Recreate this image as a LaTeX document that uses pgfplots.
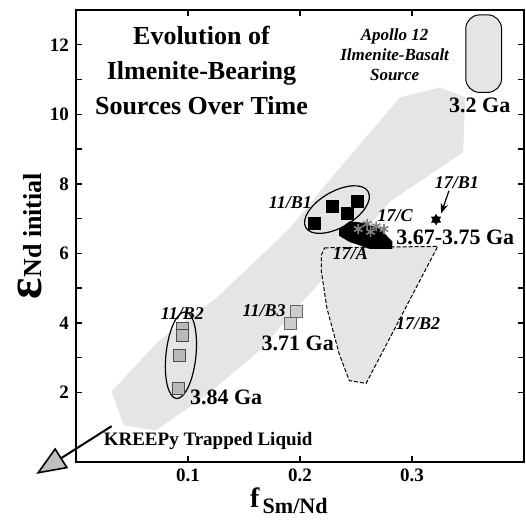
\documentclass[border=0pt]{standalone}
\usepackage{fontspec}
\setmainfont{Liberation Serif}
\usepackage{pgfplots}
\pgfplotsset{compat=1.18}
\usetikzlibrary{arrows.meta,shapes.geometric}
\definecolor{stip}{gray}{0.9}

\begin{document}
\begin{tikzpicture}
\begin{axis}[
    scale only axis,
    width=224pt, height=226pt,
    xmin=0, xmax=0.4, ymin=0, ymax=13,
    xtick={0.1,0.2,0.3},
    ytick={2,4,6,8,10,12},
    minor y tick num=1,
    tick align=inside,
    major tick length=3pt, minor tick length=3pt,
    axis line style={line width=0.8pt},
    every tick/.style={black, line width=0.7pt},
    ticklabel style={font=\bfseries\fontsize{9.5}{10}\selectfont},
    /pgf/number format/assume math mode=true,
    xticklabel style={/pgf/number format/fixed, /pgf/number format/precision=1},
    clip=false,
]
% evolution band
\addplot[fill=stip, draw=none] coordinates {
  (0.0318,2.03) (0.074,3.49) (0.125,4.71) (0.1906,6.71) (0.2265,8.11)
  (0.2892,10.49) (0.3251,10.77) (0.3475,10.49) (0.3457,8.91) (0.2803,7.49)
  (0.2265,5.49) (0.1637,3.2) (0.1161,1.91) (0.0713,0.91) (0.0426,1.06)} -- cycle;
% 17/B2 field
\addplot[fill=stip, draw=black, dash pattern=on 2pt off 1pt, line width=0.5pt] coordinates {
  (0.222,6.16) (0.323,6.2) (0.259,2.26) (0.244,2.34) (0.235,3.11)
  (0.224,4.43) (0.219,5.5) (0.219,5.95)} -- cycle;
% Apollo 12 source
\addplot[fill=stip, draw=black, line width=0.5pt, rounded corners=7pt] coordinates {
  (0.348,10.63) (0.380,10.63) (0.380,12.86) (0.348,12.86)} -- cycle;
% 17/A
\addplot[fill=black, draw=black] coordinates {
  (0.2354,6.69) (0.2444,6.91) (0.2578,6.86) (0.2713,6.69) (0.2821,6.34)
  (0.2821,6.14) (0.2623,6.14) (0.2444,6.34) (0.2354,6.51)} -- cycle;
% 17/C
\addplot[only marks, mark=asterisk, mark size=2.5pt, gray, line width=0.8pt] coordinates {
  (0.252,6.7) (0.260,6.85) (0.268,6.78) (0.275,6.7) (0.263,6.62)};
% 17/B1
\addplot[only marks, mark=triangle*, mark size=2.5pt, black] coordinates {(0.3215,6.97)};
\addplot[only marks, mark=triangle*, mark size=2.5pt, mark options={rotate=180}, black] coordinates {(0.3215,6.97)};
\addplot[line width=0.6pt, -{Stealth[length=5pt]}] coordinates {(0.333,7.8) (0.326,7.15)};
% 11/B1
\addplot[only marks, mark=square*, mark size=3pt, black] coordinates {
  (0.213,6.86) (0.229,7.34) (0.242,7.14) (0.251,7.49)};
% 11/B2
\addplot[only marks, mark=square*, mark size=3pt, draw=black!70, fill=gray!55] coordinates {
  (0.095,3.85) (0.095,3.65) (0.092,3.06) (0.091,2.11)};
% 11/B3
\addplot[only marks, mark=square*, mark size=3pt, draw=black!60, fill=gray!40] coordinates {
  (0.197,4.34) (0.191,4.0)};
% KREEPy arrow
\addplot[line width=1pt, -{Triangle[length=15pt, width=12pt, fill=gray!50, line width=0.8pt]}] coordinates {
  (0.0318,1.03) (-0.0354,-0.343)};

\node[draw, ellipse, line width=0.6pt, minimum width=36pt, minimum height=18pt, inner sep=0pt, rotate=30] at (axis cs:0.233,7.26) {};
\node[draw, ellipse, line width=0.6pt, minimum width=43.5pt, minimum height=15pt, inner sep=0pt, rotate=84] at (axis cs:0.0937,3.07) {};

\node[align=center, font=\bfseries\fontsize{13}{17.3}\selectfont] at (axis cs:0.112,11.26)
  {Evolution of\\Ilmenite-Bearing\\Sources Over Time};
\node[align=center, font=\bfseries\itshape\fontsize{8.5}{10}\selectfont] at (axis cs:0.2845,11.71)
  {Apollo 12\\Ilmenite-Basalt\\Source};
\begin{scope}[every node/.style={font=\bfseries\fontsize{11}{12}\selectfont}]
\node at (axis cs:0.3605,10.26) {3.2 Ga};
\node at (axis cs:0.3386,6.45) {3.67-3.75 Ga};
\node at (axis cs:0.198,3.40) {3.71 Ga};
\node at (axis cs:0.134,1.86) {3.84 Ga};
\end{scope}
\begin{scope}[every node/.style={font=\bfseries\itshape\fontsize{9}{10}\selectfont}]
\node at (axis cs:0.340,8.03) {17/B1};
\node at (axis cs:0.285,7.08) {17/C};
\node at (axis cs:0.245,6.0) {17/A};
\node at (axis cs:0.3054,3.97) {17/B2};
\node at (axis cs:0.1915,7.46) {11/B1};
\node at (axis cs:0.168,4.34) {11/B3};
\node at (axis cs:0.095,4.26) {11/B2};
\end{scope}
\node[font=\bfseries\fontsize{9.5}{10}\selectfont] at (axis cs:0.118,0.6) {KREEPy Trapped Liquid};

\node[rotate=90, font=\bfseries] at (axis description cs:-0.103,0.5)
  {{\fontsize{25}{25}\selectfont ε}{\fontsize{13}{13}\selectfont Nd initial}};
\node[font=\bfseries, anchor=base] at (axis description cs:0.475,-0.1)
  {{\fontsize{14}{14}\selectfont f}\,\raisebox{-3pt}{\fontsize{11}{11}\selectfont Sm/Nd}};
\end{axis}
\path ([shift={(-38pt,-30pt)}]current axis.south west) rectangle ([shift={(1pt,5pt)}]current axis.north east);
\end{tikzpicture}
\end{document}
